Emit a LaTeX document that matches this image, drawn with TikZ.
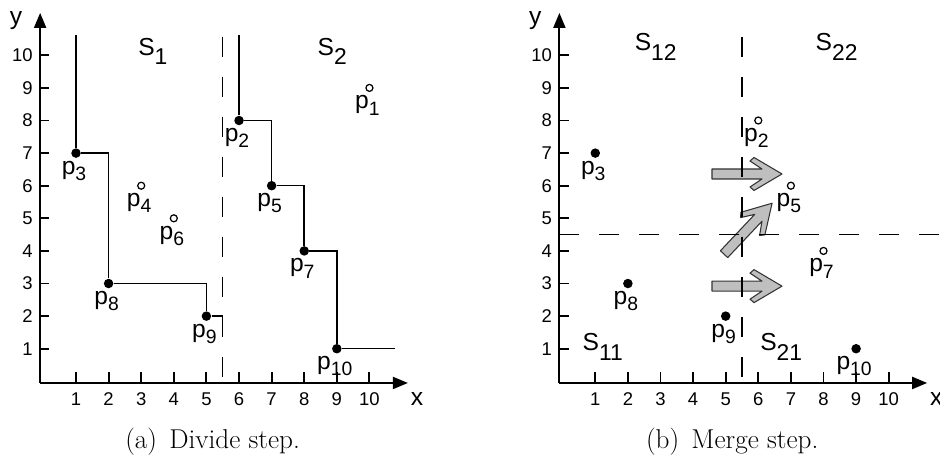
\documentclass[tikz,border=0pt]{standalone}
\usepackage{fontspec}
\setsansfont{Liberation Sans}
\usepackage{tikz}
\usetikzlibrary{arrows.meta,positioning}

\newcommand{\plab}[1]{p\raisebox{-3.5pt}{\fontsize{11}{11}\selectfont#1}}
\newcommand{\slab}[1]{S\raisebox{-5.5pt}{\fontsize{13}{13}\selectfont#1}}

\tikzset{
  bigarrow/.pic={
    \draw[block] (0,-0.1cm) -- (1.0cm,-0.1cm) -- (0.76cm,-0.26cm) -- (0.84cm,-0.33cm)
      -- (1.4cm,0) -- (0.84cm,0.33cm) -- (0.76cm,0.26cm) -- (1.0cm,0.1cm) -- (0,0.1cm) -- cycle;
  }
}

\begin{document}
\begin{tikzpicture}[
      x=0.652cm, y=0.652cm,
      axis/.style={line width=1.1pt, -{Triangle[length=0.3cm,width=0.24cm]}},
      tck/.style={line width=1.1pt},
      stair/.style={line width=0.85pt},
      split/.style={line width=0.8pt, dash pattern=on 0.4cm off 0.4cm},
      dot/.style={circle, fill=black, inner sep=0pt, minimum size=0.19cm},
      hole/.style={circle, draw=black, fill=white, line width=0.7pt, inner sep=0pt, minimum size=0.14cm},
      lab/.style={anchor=base, inner sep=0pt, font=\sffamily\fontsize{14}{14}\selectfont},
      reg/.style={anchor=base west, inner sep=0pt, font=\sffamily\fontsize{14}{14}\selectfont},
      num/.style={inner sep=0pt, font=\sffamily\fontsize{10.5}{10.5}\selectfont},
      captxt/.style={anchor=base, inner sep=0pt, font=\rmfamily\fontsize{15.5}{18}\selectfont},
      block/.style={fill=black!25, draw=black!80, line width=0.6pt, line join=round}
    ]
    \useasboundingbox (-1.331,-2.353) rectangle (27.50,11.696);

    % (a) divide step
    \coordinate (o1) at (-0.1,-0.05);
    \draw[axis] (o1) -- (11.18,-0.05);
    \draw[axis] (o1) -- (-0.1,11.3);
    \foreach \i in {1,...,10} {
      \draw[tck] (\i,-0.05) -- (\i,0.3);
      \draw[tck] (-0.1,\i) -- (0.18,\i);
      \node[num, anchor=north] at (\i,-0.33) {\i};
      \node[num, anchor=east] at (-0.32,\i) {\i};
    }
    \node[lab] (xa) at (11.46,-0.75) {x};
    \node[lab] (ya) at (-0.84,10.93) {y};

    \foreach \n/\x/\y in {3/1/7, 8/2/3, 9/5/2, 2/6/8, 5/7/6, 7/8/4, 10/9/1} {
      \node[dot] (p\n) at (\x,\y) {};
    }
    \foreach \n/\x/\y in {4/3/6, 6/4/5, 1/10/9} {
      \node[hole] (p\n) at (\x,\y) {};
    }
    \foreach \n in {1,...,10} {
      \node[lab, below=0.42cm of p\n.center, anchor=base, xshift=-0.04cm] (l\n) {\plab{\n}};
    }

    \coordinate (t1) at (1,10.62);
    \coordinate (e1) at (5.5,2);
    \coordinate (t2) at (6,10.62);
    \coordinate (e2) at (10.78,1);
    \draw[stair] (t1) -- (p3) -| (p8) -| (p9) -- (e1);
    \draw[stair] (t2) -- (p2) -| (p5) -| (p7) -| (p10) -- (e2);
    \draw[split] (5.5,10.57) -- (5.5,-0.05);

    \node[reg] (s1) at (2.9,10.0) {\slab{1}};
    \node[reg] (s2) at (8.4,10.0) {\slab{2}};

    \node[captxt] (ca) at (5.19,-2.05) {(a)\hspace{0.45em}Divide step.};

    % (b) merge step
    \begin{scope}[xshift=10.384cm]
      \coordinate (o2) at (-0.1,-0.05);
      \draw[axis] (o2) -- (11.18,-0.05);
      \draw[axis] (o2) -- (-0.1,11.3);
      \foreach \i in {1,...,10} {
        \draw[tck] (\i,-0.05) -- (\i,0.3);
        \draw[tck] (-0.1,\i) -- (0.18,\i);
        \node[num, anchor=north] at (\i,-0.33) {\i};
        \node[num, anchor=east] at (-0.32,\i) {\i};
      }
      \node[lab] (xb) at (11.46,-0.75) {x};
      \node[lab] (yb) at (-0.84,10.93) {y};

      \pic at (4.58,6.36) {bigarrow};
      \pic at (4.58,2.92) {bigarrow};
      \pic[rotate=46.7] at (4.95,3.90) {bigarrow};

      \draw[split] (5.5,10.57) -- (5.5,-0.05);
      \draw[split] (-0.1,4.5) -- (11.7,4.5);

      \foreach \n/\x/\y in {3/1/7, 8/2/3, 9/5/2, 10/9/1} {
        \node[dot] (q\n) at (\x,\y) {};
      }
      \foreach \n/\x/\y in {2/6/8, 5/7/6, 7/8/4} {
        \node[hole] (q\n) at (\x,\y) {};
      }
      \foreach \n in {2,3,5,7,8,9,10} {
        \node[lab, below=0.42cm of q\n.center, anchor=base, xshift=-0.04cm] (m\n) {\plab{\n}};
      }

      \node[reg] (s12) at (2.2,10.15) {\slab{12}};
      \node[reg] (s22) at (7.75,10.15) {\slab{22}};
      \node[reg] (s11) at (0.6,0.95) {\slab{11}};
      \node[reg] (s21) at (6.05,0.95) {\slab{21}};

      \node[captxt] (cb) at (5.2,-2.05) {(b)\hspace{0.45em}Merge step.};
    \end{scope}
  \end{tikzpicture}
\end{document}
